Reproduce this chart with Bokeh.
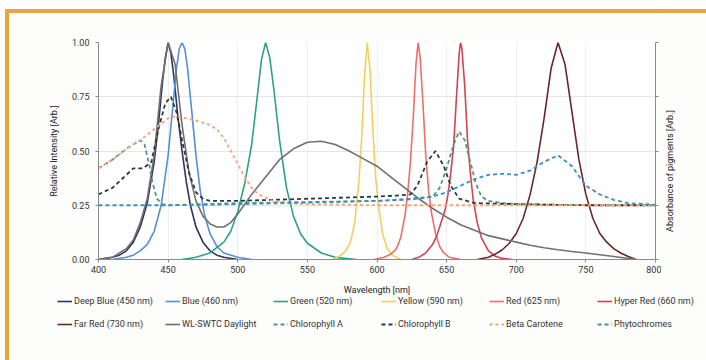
import math
from bokeh.plotting import figure
from bokeh.layouts import column, row
from bokeh.models import (Range1d, LinearAxis, Legend, LegendItem,
                          FixedTicker, NumeralTickFormatter)
from bokeh.embed import file_html
from bokeh.resources import INLINE

FONT = "Roboto"

# ---------------- data ----------------
x_ticks = [400, 450, 500, 550, 600, 650, 700, 750, 800]
y_ticks = [0.0, 0.25, 0.5, 0.75, 1.0]

deep_blue_nm = [400, 405, 410, 415, 420, 425, 430, 435, 440, 443, 446, 448, 450, 452, 454, 457, 460, 463, 466, 470, 475, 480, 485, 490, 500]
deep_blue_val = [0.0, 0.005, 0.01, 0.02, 0.04, 0.08, 0.15, 0.26, 0.45, 0.62, 0.82, 0.93, 1.0, 0.95, 0.85, 0.66, 0.5, 0.36, 0.25, 0.15, 0.08, 0.04, 0.02, 0.01, 0.0]

blue_nm = [410, 420, 425, 430, 435, 440, 445, 450, 453, 456, 458, 460, 462, 464, 467, 470, 473, 476, 480, 485, 490, 500, 510]
blue_val = [0.0, 0.01, 0.02, 0.04, 0.07, 0.13, 0.25, 0.48, 0.68, 0.88, 0.97, 1.0, 0.97, 0.88, 0.68, 0.48, 0.32, 0.21, 0.12, 0.06, 0.03, 0.01, 0.0]

green_nm = [460, 470, 480, 490, 495, 500, 505, 510, 514, 517, 520, 523, 526, 530, 535, 540, 545, 550, 560, 570, 585]
green_val = [0.0, 0.01, 0.03, 0.08, 0.13, 0.22, 0.35, 0.53, 0.75, 0.92, 1.0, 0.93, 0.78, 0.55, 0.33, 0.2, 0.12, 0.075, 0.03, 0.01, 0.0]

yellow_nm = [568, 573, 577, 581, 584, 587, 589, 591, 593, 595, 597, 599, 601, 604, 607, 611, 617]
yellow_val = [0.0, 0.015, 0.035, 0.08, 0.17, 0.36, 0.56, 0.84, 1.0, 0.87, 0.6, 0.38, 0.25, 0.12, 0.055, 0.02, 0.0]

red_nm = [598, 605, 610, 614, 617, 620, 622, 624, 626, 628, 629.5, 631, 633, 635, 637, 639, 642, 645, 648, 652, 660]
red_val = [0.0, 0.01, 0.025, 0.05, 0.1, 0.2, 0.3, 0.45, 0.65, 0.9, 1.0, 0.93, 0.72, 0.48, 0.32, 0.22, 0.12, 0.06, 0.03, 0.01, 0.0]

hyper_red_nm = [625, 630, 635, 640, 643, 646, 649, 651, 653, 655, 657, 659, 660, 661, 663, 665, 667, 669, 672, 675, 680, 685, 690, 697]
hyper_red_val = [0.0, 0.01, 0.03, 0.07, 0.11, 0.17, 0.23, 0.3, 0.4, 0.52, 0.74, 0.95, 1.0, 0.97, 0.8, 0.55, 0.4, 0.28, 0.17, 0.1, 0.04, 0.015, 0.005, 0.0]

far_red_nm = [672, 680, 685, 690, 695, 700, 705, 710, 715, 720, 725, 730, 735, 740, 745, 750, 755, 760, 765, 770, 775, 780, 786]
far_red_val = [0.0, 0.01, 0.025, 0.045, 0.075, 0.12, 0.19, 0.3, 0.45, 0.65, 0.88, 1.0, 0.9, 0.68, 0.46, 0.3, 0.19, 0.12, 0.08, 0.05, 0.03, 0.015, 0.0]

daylight_nm = [400, 410, 420, 425, 430, 435, 440, 445, 450, 455, 460, 465, 470, 475, 480, 485, 490, 495, 500, 510, 520, 530, 540, 550, 560, 570, 580, 590, 600, 610, 620, 630, 640, 650, 660, 670, 680, 690, 700, 710, 720, 730, 740, 750, 760, 770, 778, 786]
daylight_val = [0.0, 0.01, 0.05, 0.09, 0.17, 0.28, 0.48, 0.8, 1.0, 0.9, 0.62, 0.4, 0.27, 0.2, 0.165, 0.15, 0.15, 0.17, 0.21, 0.3, 0.38, 0.46, 0.51, 0.54, 0.545, 0.53, 0.5, 0.465, 0.43, 0.38, 0.33, 0.28, 0.235, 0.195, 0.16, 0.135, 0.11, 0.095, 0.08, 0.066, 0.054, 0.045, 0.037, 0.03, 0.022, 0.014, 0.007, 0.0]

chl_a_nm = [400, 410, 420, 425, 430, 433, 436, 439, 442, 446, 450, 500, 550, 600, 620, 630, 640, 645, 650, 655, 659, 663, 667, 671, 675, 680, 690, 700, 750, 800]
chl_a_val = [0.42, 0.46, 0.51, 0.53, 0.55, 0.53, 0.45, 0.35, 0.28, 0.255, 0.25, 0.26, 0.265, 0.27, 0.275, 0.28, 0.29, 0.33, 0.42, 0.53, 0.59, 0.55, 0.45, 0.35, 0.29, 0.27, 0.26, 0.255, 0.25, 0.25]

chl_b_nm = [400, 410, 420, 425, 432, 438, 443, 448, 452, 456, 460, 465, 470, 475, 480, 500, 550, 600, 615, 624, 629, 636, 642, 648, 653, 659, 670, 700, 750, 800]
chl_b_val = [0.3, 0.33, 0.39, 0.42, 0.42, 0.45, 0.6, 0.72, 0.75, 0.68, 0.55, 0.4, 0.31, 0.28, 0.27, 0.27, 0.28, 0.29, 0.295, 0.3, 0.34, 0.45, 0.5, 0.43, 0.34, 0.28, 0.26, 0.255, 0.25, 0.25]

beta_nm = [400, 410, 420, 430, 440, 450, 455, 460, 470, 480, 485, 490, 495, 500, 505, 510, 515, 520, 525, 535, 550, 600, 700, 800]
beta_val = [0.42, 0.46, 0.51, 0.55, 0.6, 0.65, 0.66, 0.655, 0.64, 0.62, 0.6, 0.56, 0.5, 0.44, 0.38, 0.33, 0.3, 0.285, 0.27, 0.26, 0.255, 0.25, 0.25, 0.25]

phyto_nm = [400, 450, 480, 500, 550, 600, 620, 640, 650, 660, 670, 680, 690, 700, 710, 720, 730, 740, 750, 760, 770, 780, 800]
phyto_val = [0.25, 0.25, 0.252, 0.255, 0.262, 0.27, 0.278, 0.29, 0.31, 0.34, 0.37, 0.39, 0.395, 0.39, 0.41, 0.45, 0.48, 0.43, 0.34, 0.3, 0.275, 0.26, 0.252]

series = [
    ("Deep Blue (450 nm)", deep_blue_nm, deep_blue_val, "#2c3560", None),
    ("Blue (460 nm)", blue_nm, blue_val, "#5390d4", None),
    ("Green (520 nm)", green_nm, green_val, "#2ea37b", None),
    ("Yellow (590 nm)", yellow_nm, yellow_val, "#f5cf5c", None),
    ("Red (625 nm)", red_nm, red_val, "#ee6f6a", None),
    ("Hyper Red (660 nm)", hyper_red_nm, hyper_red_val, "#d0454f", None),
    ("Far Red (730 nm)", far_red_nm, far_red_val, "#6a2626", None),
    ("WL-SWTC Daylight", daylight_nm, daylight_val, "#707070", None),
    ("Chlorophyll A", chl_a_nm, chl_a_val, "#4f9a80", "4 3"),
    ("Chlorophyll B", chl_b_nm, chl_b_val, "#2f3b3b", "4 3"),
    ("Beta Carotene", beta_nm, beta_val, "#f4a27c", "3 3"),
    ("Phytochromes", phyto_nm, phyto_val, "#3d8fc4", "4 3"),
]

BG = "#fdfdfc"

# ---------------- main chart ----------------
p = figure(width=652, height=284, output_backend="svg", toolbar_location=None,
           x_range=Range1d(400, 800), y_range=Range1d(0, 1.0),
           min_border_left=89, min_border_right=6, min_border_top=29, min_border_bottom=38)
if "frame_align" in p.properties():
    p.frame_align = False
p.background_fill_color = "#ffffff"
p.border_fill_color = BG
p.outline_line_color = None

p.xgrid.ticker = FixedTicker(ticks=x_ticks)
p.ygrid.ticker = FixedTicker(ticks=y_ticks)
p.xgrid.grid_line_color = "#efefef"
p.ygrid.grid_line_color = "#e6e6e6"

for ax in (p.xaxis[0], p.yaxis[0]):
    ax.axis_line_color = "#8a8a8a"
    ax.major_tick_line_color = "#8a8a8a"
    ax.minor_tick_line_color = None
    ax.major_tick_in = 0
    ax.major_tick_out = 3
    ax.major_label_text_font = FONT
    ax.major_label_text_font_size = "9px"
    ax.major_label_text_color = "#333333"
    ax.axis_label_text_font = FONT
    ax.axis_label_text_font_size = "9px"
    ax.axis_label_text_font_style = "normal"
    ax.axis_label_text_color = "#222222"

p.xaxis.ticker = FixedTicker(ticks=x_ticks)
p.yaxis.ticker = FixedTicker(ticks=y_ticks)
p.yaxis.formatter = NumeralTickFormatter(format="0.00")
p.xaxis.axis_label = "Wavelength [nm]"
p.yaxis.axis_label = "Relative Intensity [Arb.]"
p.xaxis.major_label_standoff = 3
p.xaxis.axis_label_standoff = 9
p.yaxis.major_label_standoff = 6
p.yaxis.axis_label_standoff = 10

right = LinearAxis(ticker=FixedTicker(ticks=y_ticks),
                   major_label_overrides={t: "" for t in y_ticks})
right.axis_line_color = "#8a8a8a"
right.major_tick_line_color = "#8a8a8a"
right.minor_tick_line_color = None
right.major_tick_in = 0
right.major_tick_out = 3
right.major_label_standoff = 0
right.major_label_text_font_size = "0px"
p.add_layout(right, "right")

for name, xs, ys, color, dash in series:
    if dash is None:
        p.line(xs, ys, line_color=color, line_width=1.6)
    else:
        p.line(xs, ys, line_color=color, line_width=1.8, line_dash=dash)

# ---------------- right-hand strip carrying the secondary axis title ----------------
s = figure(width=45, height=284, output_backend="svg", toolbar_location=None,
           x_range=Range1d(0, 1), y_range=Range1d(0, 1),
           x_axis_location=None, y_axis_location="left",
           min_border_left=13, min_border_right=0, min_border_top=69, min_border_bottom=38)
if "frame_align" in s.properties():
    s.frame_align = False
s.background_fill_color = BG
s.border_fill_color = BG
s.outline_line_color = None
s.xgrid.visible = False
s.ygrid.visible = False
s.yaxis.ticker = FixedTicker(ticks=[])
s.yaxis.axis_line_color = None
s.yaxis.major_tick_line_color = None
s.yaxis.minor_tick_line_color = None
s.yaxis.major_tick_out = 0
s.yaxis.major_label_standoff = 0
s.yaxis.major_label_text_font_size = "0px"
s.yaxis.axis_label = "Absorbance of pigments [Arb.]"
s.yaxis.axis_label_standoff = 0
s.yaxis.axis_label_text_font = FONT
s.yaxis.axis_label_text_font_size = "9px"
s.yaxis.axis_label_text_font_style = "normal"
s.yaxis.axis_label_text_color = "#222222"

# ---------------- legend strip ----------------
q = figure(width=697, height=63, output_backend="svg", toolbar_location=None,
           x_range=Range1d(400, 800), y_range=Range1d(5, 6),
           x_axis_location=None, y_axis_location=None,
           min_border_left=0, min_border_right=0, min_border_top=0, min_border_bottom=0)
if "frame_align" in q.properties():
    q.frame_align = False
q.background_fill_color = BG
q.border_fill_color = BG
q.outline_line_color = None
q.xgrid.visible = False
q.ygrid.visible = False

items = []
for name, xs, ys, color, dash in series:
    if dash is None:
        r = q.line(xs, ys, line_color=color, line_width=1.6)
    else:
        r = q.line(xs, ys, line_color=color, line_width=1.8, line_dash=dash)
    items.append(LegendItem(label=name, renderers=[r]))

legend = Legend(items=items, location=(48, 26), orientation="horizontal", ncols=6,
                glyph_width=15, glyph_height=20, label_width=88, label_height=20,
                label_standoff=2, spacing=3, padding=0, margin=0,
                border_line_alpha=0, background_fill_alpha=0,
                label_text_font=FONT, label_text_font_size="9px", label_text_color="#333333")
q.add_layout(legend, "center")

layout = column(row(p, s, spacing=0), q, spacing=0)
layout.styles = {"border-left": "4px solid #eaa43c", "border-top": "4px solid #eaa43c",
                 "margin-left": "5px", "margin-top": "9px"}

open("out.html", "w").write(file_html(layout, INLINE))
